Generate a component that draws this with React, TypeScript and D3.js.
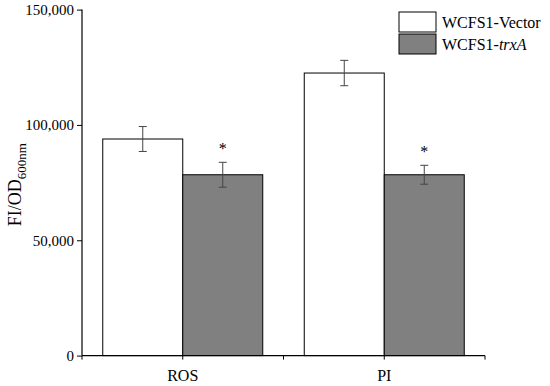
import React, { useRef, useEffect } from 'react';
import * as d3 from 'd3';

const categories = ['ROS', 'PI'];
const seriesNames = ['WCFS1-Vector', 'WCFS1-trxA'];
const vectorValues = [93900, 122500];
const vectorErrors = [5400, 5500];
const trxAValues = [78400, 78400];
const trxAErrors = [5400, 4100];
const significant = [true, true];
const yTicks = [0, 50000, 100000, 150000];

const App = () => {
  const svgRef = useRef<SVGSVGElement>(null);

  useEffect(() => {
    const W = 550;
    const H = 386;
    const margin = { top: 9.6, right: 65, bottom: 30.4, left: 82 };
    const font = '"Liberation Serif", "Times New Roman", serif';

    const svg = d3.select(svgRef.current)
      .attr('width', W)
      .attr('height', H)
      .style('display', 'block')
      .style('position', 'absolute')
      .style('left', '0px')
      .style('top', '0px');

    svg.selectAll('*').remove();

    const x = d3.scaleBand<string>()
      .domain(categories)
      .range([margin.left, W - margin.right])
      .paddingInner(0)
      .paddingOuter(0);

    const y = d3.scaleLinear()
      .domain([0, 150000])
      .range([H - margin.bottom, margin.top]);

    const barW = 80;
    const data = categories.map((c, i) => ({
      cat: c,
      bars: [
        { v: vectorValues[i], e: vectorErrors[i], fill: '#ffffff', off: -barW },
        { v: trxAValues[i], e: trxAErrors[i], fill: '#808080', off: 0 },
      ],
      sig: significant[i],
    }));

    const g = svg.append('g');

    data.forEach(d => {
      const cx = (x(d.cat) as number) + x.bandwidth() / 2;
      d.bars.forEach(b => {
        g.append('rect')
          .attr('x', cx + b.off)
          .attr('y', y(b.v))
          .attr('width', barW)
          .attr('height', y(0) - y(b.v))
          .attr('fill', b.fill)
          .attr('stroke', '#000')
          .attr('stroke-width', 1);
        const ex = cx + b.off + barW / 2;
        const cap = 4;
        const eg = g.append('g').attr('stroke', '#444').attr('stroke-width', 1);
        eg.append('line').attr('x1', ex).attr('x2', ex).attr('y1', y(b.v + b.e)).attr('y2', y(b.v - b.e));
        eg.append('line').attr('x1', ex - cap).attr('x2', ex + cap).attr('y1', y(b.v + b.e)).attr('y2', y(b.v + b.e));
        eg.append('line').attr('x1', ex - cap).attr('x2', ex + cap).attr('y1', y(b.v - b.e)).attr('y2', y(b.v - b.e));
      });
      if (d.sig) {
        const b = d.bars[1];
        g.append('text')
          .attr('x', cx + b.off + barW / 2)
          .attr('y', y(b.v + b.e) - 8)
          .attr('text-anchor', 'middle')
          .style('font-family', font)
          .style('font-size', '16px')
          .text('*');
      }
    });

    // y axis
    const yAxis = svg.append('g')
      .attr('transform', `translate(${margin.left},0)`)
      .call(d3.axisLeft(y).tickValues(yTicks).tickFormat(d3.format(',')).tickSize(5).tickPadding(3));
    yAxis.select('.domain').attr('stroke', '#000').attr('stroke-width', 1.2).attr('d', `M0,${y(150000)}V${y(0)}`);
    yAxis.selectAll('text').style('font-family', font).style('font-size', '15px').attr('fill', '#000');

    // x axis
    const xPos = y(0);
    const xa = svg.append('g');
    xa.append('line')
      .attr('x1', margin.left).attr('x2', W - margin.right)
      .attr('y1', xPos).attr('y2', xPos)
      .attr('stroke', '#000').attr('stroke-width', 1.2);
    const tickXs = [margin.left, ...categories.map(c => (x(c) as number) + x.bandwidth() / 2), ...categories.map(c => (x(c) as number) + x.bandwidth())];
    tickXs.forEach(tx => {
      xa.append('line').attr('x1', tx).attr('x2', tx).attr('y1', xPos).attr('y2', xPos + 4)
        .attr('stroke', '#000').attr('stroke-width', 1);
    });
    categories.forEach(c => {
      xa.append('text')
        .attr('x', (x(c) as number) + x.bandwidth() / 2)
        .attr('y', xPos + 25)
        .attr('text-anchor', 'middle')
        .style('font-family', font)
        .style('font-size', '16px')
        .text(c);
    });

    // y label
    const yl = svg.append('text')
      .attr('transform', `translate(21,${(margin.top + xPos) / 2 + 2}) rotate(-90)`)
      .attr('text-anchor', 'middle')
      .style('font-family', font)
      .style('font-size', '18px');
    yl.append('tspan').text('FI/OD');
    yl.append('tspan').attr('dy', 5).style('font-size', '13px').text('600nm');

    // legend
    const lg = svg.append('g').attr('transform', 'translate(399,12)');
    const fills = ['#ffffff', '#808080'];
    seriesNames.forEach((s, i) => {
      lg.append('rect')
        .attr('x', 0).attr('y', i * 22)
        .attr('width', 37).attr('height', 20)
        .attr('fill', fills[i]).attr('stroke', '#000').attr('stroke-width', 1);
      const t = lg.append('text')
        .attr('x', 43).attr('y', i * 22 + 16)
        .style('font-family', font)
        .style('font-size', '16px');
      if (s.endsWith('trxA')) {
        t.append('tspan').text('WCFS1-');
        t.append('tspan').style('font-style', 'italic').text('trxA');
      } else {
        t.text(s);
      }
    });
  }, []);

  return (
    <div>
      <svg ref={svgRef}></svg>
    </div>
  );
};

export default App;
